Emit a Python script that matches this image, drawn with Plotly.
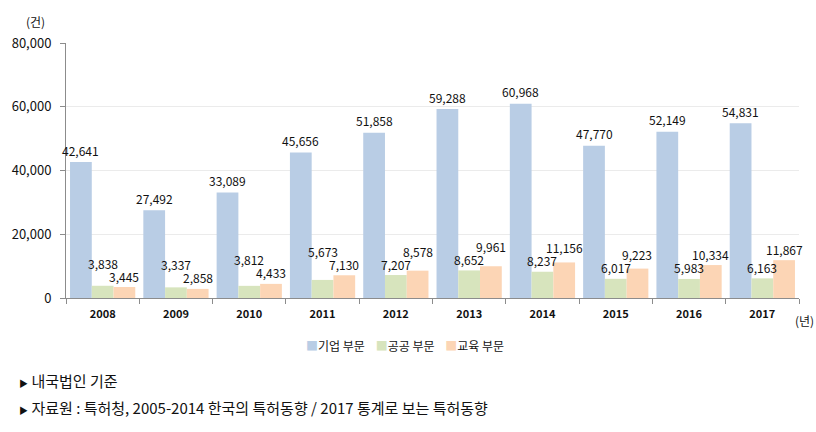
import plotly.graph_objects as go

years = ["2008", "2009", "2010", "2011", "2012", "2013", "2014", "2015", "2016", "2017"]
corp = [42641, 27492, 33089, 45656, 51858, 59288, 60968, 47770, 52149, 54831]
public = [3838, 3337, 3812, 5673, 7207, 8652, 8237, 6017, 5983, 6163]
edu = [3445, 2858, 4433, 7130, 8578, 9961, 11156, 9223, 10334, 11867]
series_names = ["기업 부문", "공공 부문", "교육 부문"]
y_ticks = [0, 20000, 40000, 60000, 80000]
# which of the two small labels is lifted in each year ("g" public, "o" education)
lifted = ["g", "g", "g", "g", "o", "o", "o", "o", "o", "o"]

colors = ["#B9CDE5", "#D7E4BD", "#FCD5B5"]
FONT = "Noto Sans CJK KR"
TXT = "#111111"

W, H = 816, 432
ML, MR, MT, MB = 66, 17, 43, 134
plot_w = W - ML - MR
plot_h = H - MT - MB
ymax = 80000
bargap = 0.11
px_per_unit = plot_h / ymax
cat_w = plot_w / len(years)
bar_w = cat_w * (1 - bargap) / 3

fig = go.Figure()
for vals, name, col in zip([corp, public, edu], series_names, colors):
    fig.add_trace(go.Bar(x=years, y=vals, name=name, showlegend=False,
                         marker=dict(color=col, line=dict(width=0))))

annotations = []
BASE = 11
SEP = 13
for i, yr in enumerate(years):
    annotations.append(dict(x=i, y=corp[i], xref="x", yref="y", text=f"{corp[i]:,}",
                            showarrow=False, xshift=-bar_w, yshift=BASE + 1,
                            xanchor="center", yanchor="middle"))
    g_nat = public[i] * px_per_unit + BASE
    o_nat = edu[i] * px_per_unit + BASE
    if lifted[i] == "g":
        g_c = max(g_nat, o_nat + SEP)
        o_c = o_nat
    else:
        o_c = max(o_nat, g_nat + SEP)
        g_c = g_nat
    annotations.append(dict(x=i, y=public[i], xref="x", yref="y", text=f"{public[i]:,}",
                            showarrow=False, xshift=0, yshift=g_c - public[i] * px_per_unit,
                            xanchor="center", yanchor="middle"))
    annotations.append(dict(x=i, y=edu[i], xref="x", yref="y", text=f"{edu[i]:,}",
                            showarrow=False, xshift=bar_w, yshift=o_c - edu[i] * px_per_unit,
                            xanchor="center", yanchor="middle"))

for a in annotations:
    a["font"] = dict(family=FONT, size=12, color=TXT)


def px_x(px):
    return (px - ML) / plot_w


def px_y(py):
    return (H - MB - py) / plot_h


legend_text = "&nbsp;&nbsp;&nbsp;&nbsp;".join(
    f"<span style='color:{c}'>■</span>{n}" for n, c in zip(series_names, colors))
bullet = "<span style='font-size:9px'>▶</span> "

annotations += [
    dict(text="(건)", xref="paper", yref="paper", x=px_x(35), y=px_y(21),
         xanchor="center", yanchor="middle",
         showarrow=False, font=dict(family=FONT, size=12, color=TXT)),
    dict(text="(년)", xref="paper", yref="paper", x=px_x(804), y=px_y(320),
         xanchor="center", yanchor="middle",
         showarrow=False, font=dict(family=FONT, size=12, color=TXT)),
    dict(text=legend_text, xref="paper", yref="paper", x=px_x(405), y=px_y(345),
         xanchor="center", yanchor="middle",
         showarrow=False, font=dict(family=FONT, size=12, color=TXT)),
    dict(text=bullet + "내국법인 기준", xref="paper", yref="paper", x=px_x(17), xanchor="left",
         y=px_y(380), yanchor="middle", showarrow=False,
         font=dict(family=FONT, size=15, color=TXT)),
    dict(text=bullet + "자료원 : 특허청, 2005-2014 한국의 특허동향 / 2017 통계로 보는 특허동향",
         xref="paper", yref="paper",
         x=px_x(17), xanchor="left", y=px_y(407), yanchor="middle", showarrow=False,
         font=dict(family=FONT, size=15, color=TXT)),
]

fig.update_layout(
    width=W, height=H,
    margin=dict(l=ML, r=MR, t=MT, b=MB, autoexpand=False),
    paper_bgcolor="white", plot_bgcolor="white",
    barmode="group", bargap=bargap, bargroupgap=0,
    font=dict(family=FONT, size=12, color=TXT),
    showlegend=False,
    annotations=annotations,
    xaxis=dict(type="category", range=[-0.5, len(years) - 0.5], showline=True,
               linecolor="#8c8c8c", linewidth=1, automargin=False,
               ticks="outside", tickson="boundaries", ticklen=5, tickcolor="#8c8c8c",
               showgrid=False, tickangle=0, ticklabelstandoff=6,
               tickfont=dict(family=FONT, size=11, color=TXT, weight="bold")),
    yaxis=dict(range=[0, ymax], tickvals=y_ticks, tickformat=",d", showline=True,
               linecolor="#8c8c8c", linewidth=1, ticks="outside", ticklen=5, tickcolor="#8c8c8c",
               showgrid=True, gridcolor="#ebebeb", gridwidth=1, zeroline=False,
               automargin=False, ticklabelstandoff=6,
               tickfont=dict(family=FONT, size=13, color=TXT)),
)

fig.write_html("out.html", config={"displayModeBar": False},
               post_script="document.body.style.margin='0';document.body.style.overflow='hidden';")
